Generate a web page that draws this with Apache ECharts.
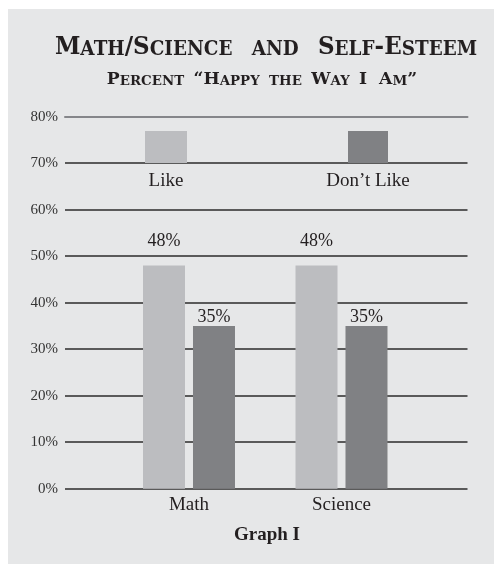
<!DOCTYPE html>
<html>
<head>
<meta charset="utf-8">
<script src="https://cdn.jsdelivr.net/npm/echarts@6/dist/echarts.min.js"></script>
<style>
  html, body { margin: 0; padding: 0; background: #fff; }
  #chart {
    width: 494px; height: 564px;
    background: linear-gradient(#e6e7e8, #e6e7e8) 8px 9px / 486px 555px no-repeat, #fff;
  }
</style>
</head>
<body>
<div id="chart"></div>
<script>
// data
var categories = ["Math", "Science"];
var likeValues = [48, 48];
var dislikeValues = [35, 35];
var seriesNames = ["Like", "Don\u2019t Like"];
var yMin = 0, yMax = 80, yStep = 10;

var serif = "'Liberation Serif', 'DejaVu Serif', serif";
var heavy = "'DejaVu Serif', 'Liberation Serif', serif";
var ink = "#231f20";
var likeColor = "#bcbdc0";
var dislikeColor = "#808184";

var chart = echarts.init(document.getElementById("chart"));

var option = {
  backgroundColor: "transparent",
  animation: false,
  textStyle: { fontFamily: serif },
  graphic: [
    {
      // small-caps title, squeezed horizontally like the condensed original
      type: "text",
      x: 266, y: 47.5,
      scaleX: 0.92,
      style: {
        text: "{b|M}{s|ATH}{b|/S}{s|CIENCE}{s|   AND   }{b|S}{s|ELF}{b|-E}{s|STEEM}",
        align: "center",
        verticalAlign: "middle",
        fill: ink,
        font: "bold 20px " + heavy,
        rich: {
          b: { font: "bold 25px " + heavy, fill: ink, verticalAlign: "bottom", lineHeight: 24 },
          s: { font: "bold 20px " + heavy, fill: ink, verticalAlign: "bottom", lineHeight: 19 }
        }
      }
    },
    {
      type: "text",
      x: 262, y: 80.5,
      scaleX: 1.03,
      style: {
        text: "{b|P}{s|ERCENT  }{b|\u201cH}{s|APPY  THE  }{b|W}{s|AY  }{b|I  A}{s|M}{b|\u201d}",
        align: "center",
        verticalAlign: "middle",
        fill: ink,
        font: "bold 13px " + heavy,
        rich: {
          b: { font: "bold 16.7px " + heavy, fill: ink, verticalAlign: "bottom", lineHeight: 15 },
          s: { font: "bold 13px " + heavy, fill: ink, verticalAlign: "bottom", lineHeight: 11.5 }
        }
      }
    },
    {
      type: "text", x: 166, y: 181,
      style: { text: seriesNames[0], align: "center", verticalAlign: "middle", fill: ink, font: "19px " + serif }
    },
    {
      type: "text", x: 368, y: 181,
      style: { text: seriesNames[1], align: "center", verticalAlign: "middle", fill: ink, font: "19px " + serif }
    },
    {
      type: "text", x: 267, y: 535,
      style: { text: "Graph I", align: "center", verticalAlign: "middle", fill: ink, font: "bold 19px " + serif }
    }
  ],
  // legend swatches sit inside the 70-80% band, names drawn underneath
  legend: [
    {
      data: [seriesNames[0]], left: 145, top: 131, padding: 0,
      icon: "rect", itemWidth: 42, itemHeight: 32, selectedMode: false,
      formatter: function () { return ""; }
    },
    {
      data: [seriesNames[1]], left: 348, top: 131, padding: 0,
      icon: "rect", itemWidth: 40, itemHeight: 32, selectedMode: false,
      formatter: function () { return ""; }
    }
  ],
  grid: [
    { left: 65, right: 26.5, top: 116.7, bottom: 75.3 },
    { left: 112.75, right: 76.25, top: 116.7, bottom: 75.3 }
  ],
  xAxis: [
    {
      gridIndex: 0, type: "category", data: categories, position: "top",
      axisLine: { show: true, onZero: false, lineStyle: { color: "#85868a", width: 2 } },
      axisTick: { show: false }, axisLabel: { show: false }
    },
    {
      gridIndex: 1, type: "category", data: categories,
      axisLine: { show: false }, axisTick: { show: false },
      axisLabel: { color: ink, fontSize: 19, fontFamily: serif, margin: 7 }
    }
  ],
  yAxis: [
    {
      gridIndex: 0, type: "value", min: yMin, max: yMax, interval: yStep,
      axisLine: { show: false }, axisTick: { show: false },
      axisLabel: {
        color: "#333", fontSize: 15, fontFamily: serif, margin: 7,
        formatter: "{value}%"
      },
      splitLine: {
        lineStyle: {
          color: ["#2b2b2b", "#2b2b2b", "#2b2b2b", "#2b2b2b", "#2b2b2b", "#2b2b2b", "#2b2b2b", "#2b2b2b", "rgba(0,0,0,0)"],
          width: 1.5
        }
      }
    },
    {
      gridIndex: 1, type: "value", min: yMin, max: yMax, interval: yStep,
      show: false, splitLine: { show: false }
    }
  ],
  series: [
    {
      name: seriesNames[0], type: "bar", xAxisIndex: 1, yAxisIndex: 1,
      data: likeValues, barWidth: 42, barGap: "19%",
      itemStyle: { color: likeColor },
      label: {
        show: true, position: "top", distance: 15, formatter: "{c}%",
        color: ink, fontSize: 18, fontFamily: serif
      }
    },
    {
      name: seriesNames[1], type: "bar", xAxisIndex: 1, yAxisIndex: 1,
      data: dislikeValues, barWidth: 42, barGap: "19%",
      itemStyle: { color: dislikeColor },
      label: {
        show: true, position: "top", distance: 0, formatter: "{c}%",
        color: ink, fontSize: 18, fontFamily: serif
      }
    }
  ]
};

chart.setOption(option);
</script>
</body>
</html>
